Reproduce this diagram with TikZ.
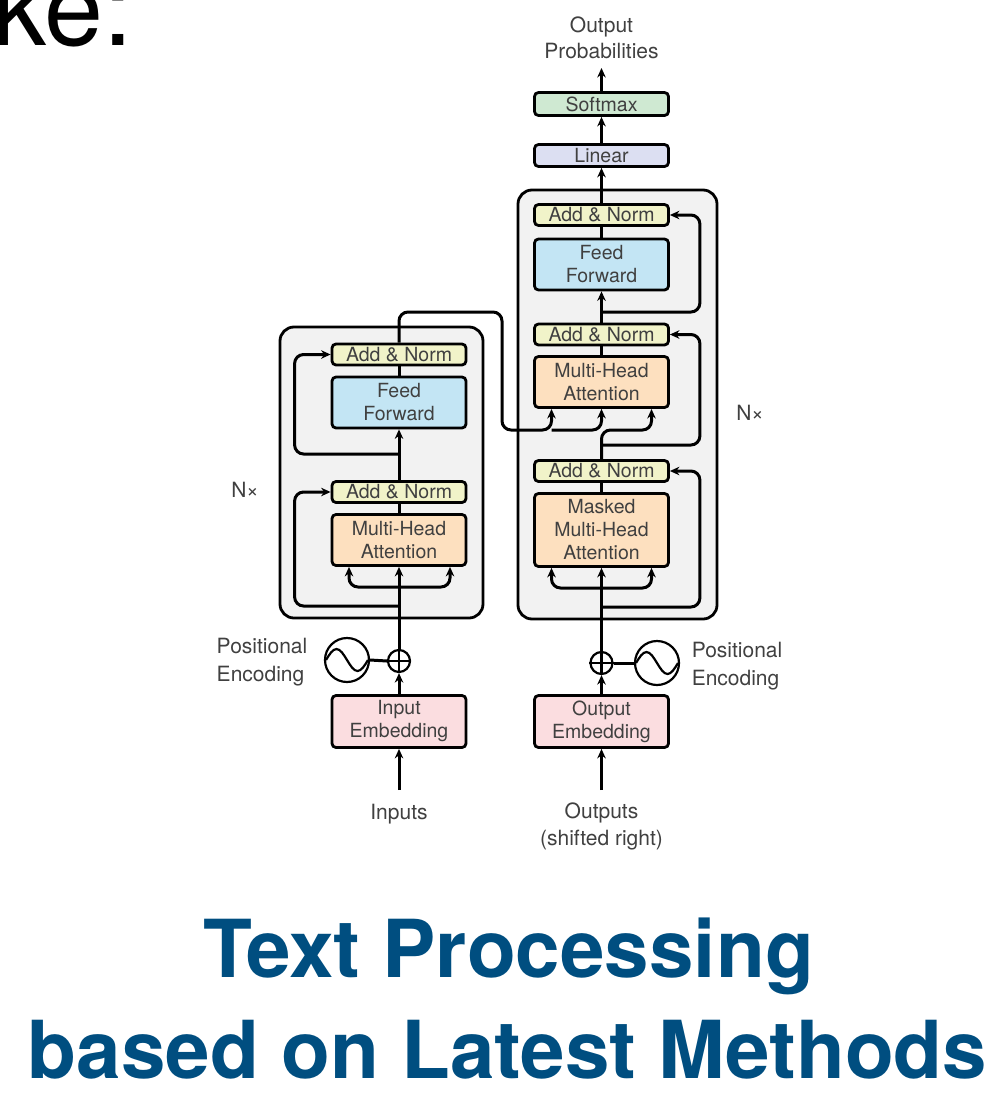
\documentclass[tikz,border=0pt]{standalone}
\usepackage{fontspec}
\setmainfont{TeX Gyre Heros}
\usetikzlibrary{arrows.meta,calc}

\definecolor{txt}{RGB}{64,64,64}
\definecolor{anfill}{RGB}{241,243,201}
\definecolor{fffill}{RGB}{195,229,244}
\definecolor{attfill}{RGB}{253,224,191}
\definecolor{embfill}{RGB}{251,221,224}
\definecolor{smfill}{RGB}{207,233,210}
\definecolor{linfill}{RGB}{220,223,242}
\definecolor{blockfill}{RGB}{242,242,242}
\definecolor{titleblue}{RGB}{0,78,128}

\begin{document}
\begin{tikzpicture}[x=1pt,y=-1pt,
  wire/.style={line width=3pt},
  arr/.style={wire, -{Stealth[length=9.5pt,width=8.5pt]}},
  rc/.style={rounded corners=9pt},
  blk/.style={draw, line width=2.8pt, rounded corners=4pt, inner sep=0pt,
    minimum width=134pt, align=center, text=txt,
    font=\fontsize{19.5}{23}\selectfont},
  addnorm/.style={blk, fill=anfill, minimum height=21pt},
  ffbox/.style={blk, fill=fffill, minimum height=51pt},
  attbox/.style={blk, fill=attfill, minimum height=51pt},
  embbox/.style={blk, fill=embfill, minimum height=52pt},
  layerblock/.style={draw, line width=2.8pt, rounded corners=14pt, fill=blockfill},
  label/.style={text=txt, inner sep=0pt, font=\fontsize{21}{28}\selectfont},
  wave/.style={draw, circle, line width=2.2pt, minimum size=44pt, inner sep=0pt},
  adder/.style={draw, circle, line width=2.2pt, minimum size=22pt, inner sep=0pt},
  heading/.style={text=titleblue, inner sep=0pt, font=\bfseries\fontsize{80}{80}\selectfont}
]
\useasboundingbox (0,0) rectangle (1000,1095);

% partially visible caption text at the upper left
\begin{scope}
  \clip (0,0) rectangle (1000,1095);
  \node[anchor=base west, inner sep=0pt, font=\fontsize{106}{106}\selectfont] (cap) at (-7,45) {ke:};
\end{scope}

% ---------------- stacked layer blocks ----------------
\node[layerblock, minimum width=203pt, minimum height=291pt] (encBlock) at (381.5,472.5) {};
\node[layerblock, minimum width=199pt, minimum height=429pt] (decBlock) at (617.5,404.5) {};

% ---------------- encoder ----------------
\node[addnorm] (enAN2) at (399,354.5) {Add \& Norm};
\node[ffbox]   (enFF)  at (399,402.5) {Feed\\Forward};
\node[addnorm] (enAN1) at (399,492)   {Add \& Norm};
\node[attbox]  (enMHA) at (399,540)   {Multi-Head\\Attention};
\node[embbox]  (inEmb) at (399,721.5) {Input\\Embedding};
\node[adder]   (encPlus) at (399,661) {};
\node[wave]    (encWave) at (347,660) {};
\node[label, anchor=base] (inputs) at (399,819) {Inputs};
\node[label, align=left] (encPE) at (262,662) {Positional\\Encoding};
\node[label, anchor=base] (encN) at (245,497) {N×};

% ---------------- decoder ----------------
\node[addnorm] (deAN3) at (601.5,215)   {Add \& Norm};
\node[ffbox]   (deFF)  at (601.5,264.5) {Feed\\Forward};
\node[addnorm] (deAN2) at (601.5,334.5) {Add \& Norm};
\node[attbox]  (deMHA) at (601.5,382)   {Multi-Head\\Attention};
\node[addnorm] (deAN1) at (601.5,471)   {Add \& Norm};
\node[attbox, minimum height=73pt] (deMMHA) at (601.5,530) {Masked\\Multi-Head\\Attention};
\node[embbox]  (outEmb) at (601.5,721.5) {Output\\Embedding};
\node[adder]   (decPlus) at (601.5,663) {};
\node[wave]    (decWave) at (657,663) {};
\node[label, align=center, font=\fontsize{21}{27}\selectfont] (outputs) at (601.5,826) {Outputs\\(shifted right)};
\node[label, align=left] (decPE) at (737,666) {Positional\\Encoding};
\node[label, anchor=base] (decN) at (750,420) {N×};

% ---------------- output head ----------------
\node[blk, fill=linfill, minimum height=22pt] (linear)  at (601.5,155.5) {Linear};
\node[blk, fill=smfill,  minimum height=23pt] (softmax) at (601.5,104)   {Softmax};
\node[label, align=center, font=\fontsize{21}{26}\selectfont] (probs) at (601.5,38) {Output\\Probabilities};

% ---------------- bend points ----------------
\coordinate (inTail)   at (399,790);
\coordinate (outTail)  at (601.5,790);
\coordinate (probHead) at (601.5,68);
\coordinate (encSplit) at (399,587);
\coordinate (encRes1)  at (399,606);
\coordinate (encRes2)  at (399,454);
\coordinate (crossA)   at (502,312);
\coordinate (crossB)   at (502,430);
\coordinate (crossMid) at (551.5,430);
\coordinate (kvLeft)   at (551.5,409);
\coordinate (decSplit) at (601.5,588);
\coordinate (decRes1)  at (601.5,607);
\coordinate (decRes2)  at (601.5,445);
\coordinate (decRes3)  at (601.5,312);
\coordinate (queryTurn) at (601.5,430);
\coordinate (queryIn)  at (651.5,409);

% sine symbols and adders
\foreach \w in {encWave,decWave}{
  \draw[line width=2.2pt] ($(\w.center)+(-21,0)$) sin ++(10.5,-11) cos ++(10.5,11)
        sin ++(10.5,11) cos ++(10.5,-11);
}
\foreach \p in {encPlus,decPlus}{
  \draw[line width=2.2pt] (\p.north) -- (\p.south) (\p.west) -- (\p.east);
}
\draw[wire] (encWave.east) -- (encPlus.west);
\draw[wire] (decWave.west) -- (decPlus.east);

% ---------------- encoder wiring ----------------
\draw[arr] (inTail) -- (inEmb.south);
\draw[arr] (inEmb.north) -- (encPlus.south);
\draw[arr] (encPlus.north) -- (enMHA.south);
\draw[arr, rc] (encSplit) -| ($(enMHA.south)+(-50,0)$);
\draw[arr, rc] (encSplit) -| ($(enMHA.south)+(51,0)$);
\draw[arr, rc] (encRes1) -| ($(enAN1.west)+(-36,0)$) -- (enAN1.west);
\draw[wire] (enMHA.north) -- (enAN1.south);
\draw[arr] (enAN1.north) -- (enFF.south);
\draw[arr, rc] (encRes2) -| ($(enAN2.west)+(-36,0)$) -- (enAN2.west);
\draw[wire] (enFF.north) -- (enAN2.south);

% encoder output into the decoder attention
\draw[arr, rc] (enAN2.north) |- (crossA) -- (crossB) -| (kvLeft);
\draw[arr, rc] (crossMid) -| (deMHA.south);

% ---------------- decoder wiring ----------------
\draw[arr] (outTail) -- (outEmb.south);
\draw[arr] (outEmb.north) -- (decPlus.south);
\draw[arr] (decPlus.north) -- (deMMHA.south);
\draw[arr, rc] (decSplit) -| ($(deMMHA.south)+(-50,0)$);
\draw[arr, rc] (decSplit) -| ($(deMMHA.south)+(50,0)$);
\draw[arr, rc] (decRes1) -| ($(deAN1.east)+(30,0)$) -- (deAN1.east);
\draw[wire] (deMMHA.north) -- (deAN1.south);
\draw[arr, rc] (deAN1.north) -- (queryTurn) -| (queryIn);
\draw[arr, rc] (decRes2) -| ($(deAN2.east)+(30,0)$) -- (deAN2.east);
\draw[wire] (deMHA.north) -- (deAN2.south);
\draw[arr] (deAN2.north) -- (deFF.south);
\draw[arr, rc] (decRes3) -| ($(deAN3.east)+(30,0)$) -- (deAN3.east);
\draw[wire] (deFF.north) -- (deAN3.south);

% ---------------- output head wiring ----------------
\draw[arr] (deAN3.north) -- (linear.south);
\draw[arr] (linear.north) -- (softmax.south);
\draw[arr] (softmax.north) -- (probHead);

% ---------------- heading ----------------
\node[heading, anchor=base] (title1) at (508.5,977) {Text Processing};
\node[heading, anchor=base] (title2) at (507.5,1078) {based on Latest Methods};
\end{tikzpicture}
\end{document}
